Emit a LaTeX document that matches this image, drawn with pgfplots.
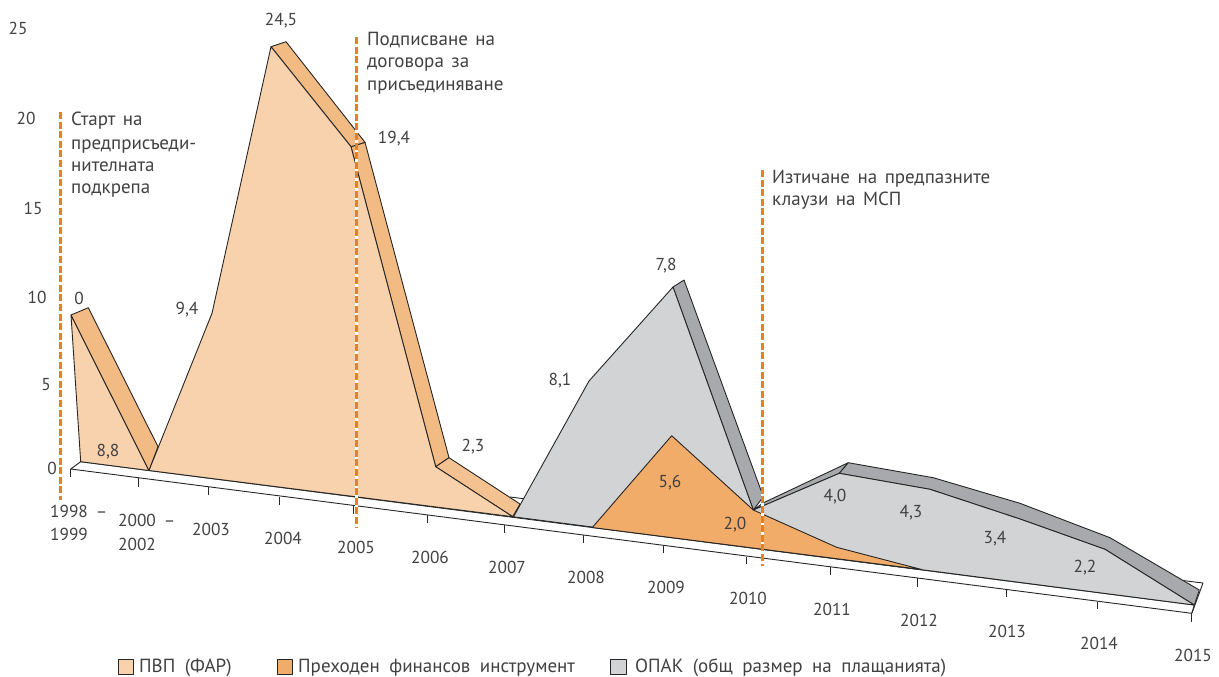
\documentclass[border=0pt]{standalone}
\usepackage{fontspec}
\setmainfont{PT Sans}
\usepackage{pgfplots}
\pgfplotsset{compat=1.18}
\definecolor{lp}{HTML}{F8D2AC}
\definecolor{bp}{HTML}{F3BB84}
\definecolor{og}{HTML}{F2AC6A}
\definecolor{gr}{HTML}{D1D3D4}
\definecolor{dg}{HTML}{A7A9AC}
\definecolor{tx}{HTML}{414042}
\definecolor{ds}{HTML}{E58025}
\newcommand\labfont{\fontsize{17.3}{20}\selectfont\spaceskip=8pt\relax}
\newcommand\ntfont{\fontsize{19}{20}\selectfont\spaceskip=7.5pt\relax}
\newcommand\lgfont{\fontsize{19}{20}\selectfont\spaceskip=9.5pt\relax}
\tikzset{
  lab/.style={font=\labfont, text=tx, inner sep=0pt, text height=12pt, text depth=0pt},
  nt/.style={font=\ntfont, text=tx, inner sep=0pt, anchor=west, text height=12pt, text depth=0pt},
  lg/.style={font=\lgfont, text=tx, inner sep=0pt, anchor=west, text height=12pt, text depth=0pt},
  tk/.style={no marks, line width=0.9pt},
  dsh/.style={no marks, draw=ds, line width=3pt, dash pattern=on 7pt off 2.6pt},
  undr/.style={no marks, draw=white, line width=3pt},
}
\begin{document}
\begin{tikzpicture}
\begin{axis}[
  anchor=origin, at={(0,0)},
  width=1219pt, height=677pt, scale only axis,
  xmin=0, xmax=1219, ymin=0, ymax=677, y dir=reverse,
  hide axis, clip=false,
  every axis plot/.append style={line width=0.9pt, draw=black!85, line join=round},
]
% invisible frame
\addplot[draw=none, no marks] coordinates {(0,0) (1219,677)};
% floor
\addplot[no marks] coordinates {(510,497) (1203,583) (1192,613)};
\addplot[no marks, fill=white] coordinates {(80.7,461.7) (70.7,469) (1191.7,613.3) (1194.3,605)} -- cycle;
% ticks
\addplot[tk] coordinates {(70.7,469) (70.7,477)};
\addplot[tk] coordinates {(138.3,478) (138.3,487)};
\addplot[tk] coordinates {(208.3,487) (208.3,495)};
\addplot[tk] coordinates {(279.3,497) (279.3,505)};
\addplot[tk] coordinates {(353,506) (353,514)};
\addplot[tk] coordinates {(427.7,515) (427.7,523)};
\addplot[tk] coordinates {(504.3,525) (504.3,533)};
\addplot[tk] coordinates {(583,535) (583,543)};
\addplot[tk] coordinates {(663.7,546) (663.7,553)};
\addplot[tk] coordinates {(746,557) (746,564)};
\addplot[tk] coordinates {(830.7,567) (830.7,575)};
\addplot[tk] coordinates {(917.3,578) (917.3,587)};
\addplot[tk] coordinates {(1006.3,590) (1006.3,597)};
\addplot[tk] coordinates {(1097.7,602) (1097.7,609)};
\addplot[tk] coordinates {(1191.7,613.3) (1191.7,622)};
% PVP first wedge
\addplot[no marks, fill=lp] coordinates {(71,315) (80.7,461.7) (149,470.5)} -- cycle;
\addplot[no marks, fill=bp] coordinates {(71,315) (88.3,307.7) (158,446.7) (149,470.5)} -- cycle;
% PVP main
\addplot[no marks, fill=bp] coordinates {(351,146.7) (365,142.3) (449,457.7) (435.7,466.7)} -- cycle;
\addplot[no marks, fill=bp] coordinates {(271,46.7) (286,41.7) (365,142.3) (351,146.7)} -- cycle;
\addplot[no marks, fill=bp!70!lp] coordinates {(435.7,466.7) (449,457.7) (520,504) (512.7,516.7)} -- cycle;
\addplot[no marks, fill=lp] coordinates {(149,470.5) (212,313.3) (271,46.7) (351,146.7) (435.7,466.7) (512.7,516.7)} -- cycle;
% grey bands and areas
\addplot[no marks, fill=dg] coordinates {(673,287) (684,280) (763.3,496.7) (753.3,510)} -- cycle;
\addplot[no marks, fill=dg] coordinates {(753.3,510) (763,503) (848.3,462.7) (839.3,473.3)} -- cycle;
\addplot[no marks, fill=dg] coordinates {(839.3,473.3) (848.3,462.7) (933.3,477.7) (1020,503.3) (1110,537.7) (1199.3,590) (1194.3,605) (1105,549.3) (1020,519) (930,489.3)} -- cycle;
\addplot[no marks, fill=gr] coordinates {(513.5,516.8) (589,381) (673,287) (753.3,510) (839.3,473.3) (930,489.3) (1020,519) (1105,549.3) (1194.3,605)} -- cycle;
% transitional instrument
\addplot[no marks, fill=og] coordinates {(592.3,527.5) (671.7,435.7) (753.3,510) (836.7,547.3) (921.7,569.5)} -- cycle;
% dashed markers
\addplot[undr] coordinates {(356,37) (356,527)};
\addplot[undr] coordinates {(762.4,170) (762.4,566)};
\addplot[dsh] coordinates {(60,112) (60,500)};
\addplot[dsh] coordinates {(356,37) (356,527)};
\addplot[dsh] coordinates {(762.4,170) (762.4,566)};
% legend swatches
\addplot[no marks, fill=lp] coordinates {(118,659) (133,659) (133,674) (118,674)} -- cycle;
\addplot[no marks, fill=og] coordinates {(277,659) (292,659) (292,674) (277,674)} -- cycle;
\addplot[no marks, fill=gr] coordinates {(610,659) (626,659) (626,674) (610,674)} -- cycle;
% y labels
\node[lab] at (axis cs:18,28) {25};
\node[lab] at (axis cs:26,118) {20};
\node[lab] at (axis cs:33,208) {15};
\node[lab] at (axis cs:37,297) {10};
\node[lab] at (axis cs:46,384) {5};
\node[lab] at (axis cs:52,468) {0};
% x labels
\node[lab,anchor=west] at (axis cs:50,511) {1998 –};
\node[lab,anchor=west] at (axis cs:50,534) {1999};
\node[lab,anchor=west] at (axis cs:118,520) {2000 –};
\node[lab,anchor=west] at (axis cs:118,544) {2002};
\node[lab] at (axis cs:211,529) {2003};
\node[lab] at (axis cs:283,538) {2004};
\node[lab] at (axis cs:356,547) {2005};
\node[lab] at (axis cs:430,557) {2006};
\node[lab] at (axis cs:507,567) {2007};
\node[lab] at (axis cs:586,577) {2008};
\node[lab] at (axis cs:666,587) {2009};
\node[lab] at (axis cs:748,598) {2010};
\node[lab] at (axis cs:832,609) {2011};
\node[lab] at (axis cs:919,620) {2012};
\node[lab] at (axis cs:1007,631) {2013};
\node[lab] at (axis cs:1099,643) {2014};
\node[lab] at (axis cs:1193,655) {2015};
% data labels
\node[lab] at (axis cs:79,298) {0};
\node[lab] at (axis cs:108,450) {8,8};
\node[lab] at (axis cs:187,308) {9,4};
\node[lab] at (axis cs:281,19) {24,5};
\node[lab] at (axis cs:394,137) {19,4};
\node[lab] at (axis cs:473,445) {2,3};
\node[lab] at (axis cs:560,379) {8,1};
\node[lab] at (axis cs:666,264) {7,8};
\node[lab] at (axis cs:670,481) {5,6};
\node[lab] at (axis cs:735,523) {2,0};
\node[lab] at (axis cs:835,495) {4,0};
\node[lab] at (axis cs:911,511) {4,3};
\node[lab] at (axis cs:995,537) {3,4};
\node[lab] at (axis cs:1085,566) {2,2};
% annotations
\node[nt] at (axis cs:71,119) {Старт на};
\node[nt] at (axis cs:71,143) {предприсъеди-};
\node[nt] at (axis cs:71,165) {нителната};
\node[nt] at (axis cs:71,187) {подкрепа};
\node[nt] at (axis cs:367,39) {Подписване на};
\node[nt] at (axis cs:367,61) {договора за};
\node[nt] at (axis cs:367,84) {присъединяване};
\node[nt] at (axis cs:772,177) {Изтичане на предпазните};
\node[nt] at (axis cs:772,199) {клаузи на МСП};
% legend text
\node[lg] at (axis cs:139,666) {ПВП (ФАР)};
\node[lg] at (axis cs:298,666) {Преходен финансов инструмент};
\node[lg] at (axis cs:635,666) {ОПАК (общ размер на плащанията)};
\end{axis}
\end{tikzpicture}
\end{document}
